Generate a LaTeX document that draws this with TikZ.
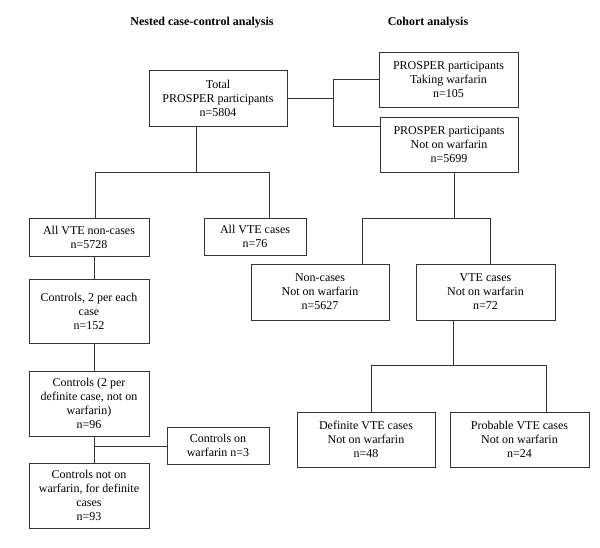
\documentclass[tikz,border=0pt]{standalone}
\usepackage{fontspec}
\setmainfont{Liberation Serif}

\begin{document}
\begin{tikzpicture}[x=1pt, y=-1pt,
        box/.style={draw=black!80, line width=0.8pt, align=center, inner sep=0pt,
            font=\fontsize{12}{14}\selectfont},
        link/.style={draw=black!80, line width=0.8pt},
        heading/.style={font=\fontsize{12}{14}\selectfont\bfseries}]
        % Fix the page size
        \useasboundingbox (0,0) rectangle (600,548);

        % Column headings
        \node[heading] (nestedtitle) at (202,23) {Nested case-control analysis};
        \node[heading] (cohorttitle) at (428,23) {Cohort analysis};

        % Draw the top boxes
        \node[box, minimum width=138, minimum height=56] (total) at (218,98)
            {Total\\PROSPER participants\\n=5804};
        \node[box, minimum width=139, minimum height=55] (taking) at (448.5,79.5)
            {PROSPER participants\\Taking warfarin\\n=105};
        \node[box, minimum width=138, minimum height=55] (notwarf) at (449,144.5)
            {PROSPER participants\\Not on warfarin\\n=5699};

        % Nested case-control boxes
        \node[box, minimum width=120, minimum height=38] (noncases) at (89,237)
            {All VTE non-cases\\n=5728};
        \node[box, minimum width=102, minimum height=37] (cases) at (255,236.5)
            {All VTE cases\\n=76};
        \node[box, minimum width=120, minimum height=64] (ctrlone) at (89,311)
            {Controls, 2 per each\\case\\n=152};
        \node[box, minimum width=120, minimum height=65] (ctrltwo) at (89,403.5)
            {Controls (2 per\\definite case, not on\\warfarin)\\n=96};
        \node[box, minimum width=102, minimum height=37] (ctrlwarf) at (218,445.5)
            {Controls on\\warfarin n=3};
        \node[box, minimum width=120, minimum height=65] (ctrlthree) at (89,495.5)
            {Controls not on\\warfarin, for definite\\cases\\n=93};

        % Cohort boxes
        \node[box, minimum width=138, minimum height=56] (cnoncase) at (320,292)
            {Non-cases\\Not on warfarin\\n=5627};
        \node[box, minimum width=139, minimum height=56] (cvte) at (485.5,292)
            {VTE cases\\Not on warfarin\\n=72};
        \node[box, minimum width=138, minimum height=55] (definite) at (366,439.5)
            {Definite VTE cases\\Not on warfarin\\n=48};
        \node[box, minimum width=139, minimum height=55] (probable) at (519.5,439.5)
            {Probable VTE cases\\Not on warfarin\\n=24};

        % Branch points
        \coordinate (tsplit) at (196,172);
        \coordinate (tl) at (95,172);
        \coordinate (tr) at (269,172);
        \coordinate (bk) at (333,98);
        \coordinate (bktop) at (333,79);
        \coordinate (bkbot) at (333,126);
        \coordinate (wsplit) at (454,218);
        \coordinate (wl) at (362,218);
        \coordinate (wr) at (490,218);
        \coordinate (vsplit) at (453,365);
        \coordinate (vl) at (371,365);
        \coordinate (vr) at (546,365);
        \coordinate (cline) at (94,446);

        % Draw the connectors
        \draw[link] (total.south -| tsplit) -- (tsplit);
        \draw[link] (noncases.north -| tl) -- (tl) -- (tr) -- (cases.north -| tr);
        \draw[link] (total.east) -- (bk);
        \draw[link] (taking.west |- bktop) -- (bktop) -- (bkbot) -- (notwarf.west |- bkbot);
        \draw[link] (notwarf.south -| wsplit) -- (wsplit);
        \draw[link] (cnoncase.north -| wl) -- (wl) -- (wr) -- (cvte.north -| wr);
        \draw[link] (cvte.south -| vsplit) -- (vsplit);
        \draw[link] (definite.north -| vl) -- (vl) -- (vr) -- (probable.north -| vr);
        \draw[link] (noncases.south -| cline) -- (ctrlone.north -| cline);
        \draw[link] (ctrlone.south -| cline) -- (ctrltwo.north -| cline);
        \draw[link] (ctrltwo.south -| cline) -- (ctrlthree.north -| cline);
        \draw[link] (cline) -- (ctrlwarf.west |- cline);
\end{tikzpicture}
\end{document}
